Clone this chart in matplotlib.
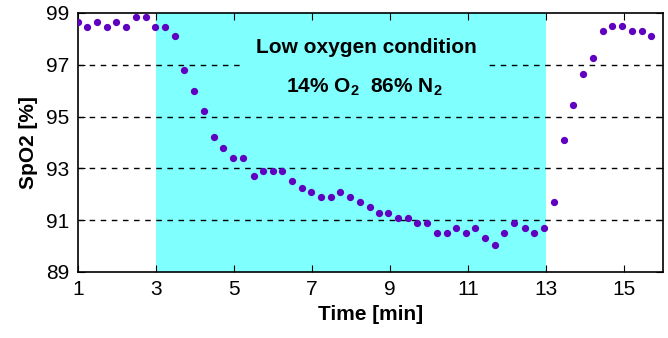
import numpy as np
import matplotlib.pyplot as plt

plt.rcParams['font.family'] = ['Liberation Sans', 'DejaVu Sans']
plt.rcParams['mathtext.fontset'] = 'custom'
plt.rcParams['mathtext.bf'] = 'Liberation Sans:bold'
plt.rcParams['mathtext.rm'] = 'Liberation Sans:bold'

# time (min) and SpO2 (%)
time = [1.0, 1.24, 1.49, 1.74, 1.98, 2.23, 2.48, 2.74, 2.98, 3.23,
        3.48, 3.73, 3.98, 4.23, 4.48, 4.73, 4.98, 5.23, 5.5, 5.74,
        5.99, 6.24, 6.49, 6.74, 6.98, 7.23, 7.48, 7.73, 7.98, 8.23,
        8.48, 8.72, 8.96, 9.2, 9.45, 9.7, 9.95, 10.2, 10.45, 10.69,
        10.94, 11.19, 11.44, 11.68, 11.93, 12.19, 12.45, 12.7, 12.95, 13.2,
        13.45, 13.7, 13.95, 14.2, 14.45, 14.7, 14.96, 15.2, 15.45, 15.7]
spo2 = [98.67, 98.47, 98.67, 98.47, 98.67, 98.47, 98.86, 98.86, 98.47, 98.47,
        98.1, 96.8, 96.0, 95.2, 94.2, 93.8, 93.4, 93.4, 92.7, 92.9,
        92.9, 92.9, 92.51, 92.26, 92.09, 91.88, 91.88, 92.09, 91.9, 91.7,
        91.51, 91.27, 91.27, 91.08, 91.08, 90.88, 90.88, 90.51, 90.51, 90.7,
        90.51, 90.7, 90.32, 90.06, 90.51, 90.88, 90.7, 90.51, 90.7, 91.7,
        94.09, 95.46, 96.65, 97.28, 98.29, 98.49, 98.49, 98.29, 98.29, 98.1]
low_start, low_end = 3, 13
xticks = [1, 3, 5, 7, 9, 11, 13, 15]
yticks = [89, 91, 93, 95, 97, 99]

fig = plt.figure(figsize=(6.68, 3.38), dpi=100)
ax = fig.add_axes([78/668, 66/338, 585/668, 259/338])

ax.axvspan(low_start, low_end, color='#80ffff', zorder=0, lw=0)
for y in yticks[1:-1]:
    ax.axhline(y, color='black', ls=(0, (4, 4)), lw=1, zorder=1)

ax.plot(time, spo2, 'o', color='#6000c0', ms=4.2, zorder=4)

ax.text(8.4, 97.65, 'Low oxygen condition', ha='center', va='center',
        fontsize=15, fontweight='bold', zorder=3,
        bbox=dict(facecolor='#80ffff', edgecolor='none', pad=9))
ax.text(8.35, 96.15, r'14% O$_2$  86% N$_2$', ha='center', va='center',
        fontsize=15, fontweight='bold', zorder=3,
        bbox=dict(facecolor='#80ffff', edgecolor='none', pad=3))

ax.set_xlim(1, 16)
ax.set_ylim(89, 99)
ax.set_xticks(xticks)
ax.set_yticks(yticks)
ax.tick_params(direction='in', top=True, right=True, labelsize=15, length=5, pad=6)
ax.set_xlabel('Time [min]', fontsize=15, fontweight='bold', labelpad=4)
ax.set_ylabel('SpO2 [%]', fontsize=15, fontweight='bold', labelpad=6)
for s in ax.spines.values():
    s.set_linewidth(1.2)

fig.savefig('out.png', dpi=100)
